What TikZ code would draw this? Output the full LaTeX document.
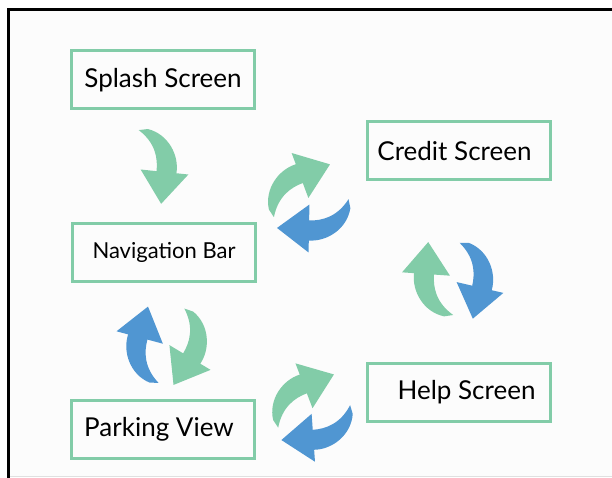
\documentclass[tikz,border=0pt]{standalone}
\usepackage{fontspec}
\setmainfont{Lato}
\definecolor{appgreen}{RGB}{130,204,168}
\definecolor{appblue}{RGB}{80,150,210}
\begin{document}
\begin{tikzpicture}[x=1pt,y=-1pt,
    screen/.style={draw=appgreen,line width=3pt,minimum width=183pt,minimum height=58pt,
        inner sep=0pt,font=\fontsize{26}{30}\selectfont},
    bendarrow/.pic={\fill[#1] (-39,30) -- (-41,21) .. controls (-38,0) and (-18,-13) .. (0,-12)
        -- (0,-24) -- (32,0) -- (0,24) -- (0,8) .. controls (-13,8) and (-28,12) .. (-39,30) -- cycle;}]
\useasboundingbox (0,0) rectangle (612,478);
\fill[gray!2] (8.5,9.5) rectangle (612,476.5);
\draw[black!12,line width=1pt] (8.5,476.5) -- (612,476.5);
\draw[line width=3.5pt] (612,9.5) -- (8.5,9.5) -- (8.5,478);
% screens
\node[screen] (splash) at (163,80) {Splash Screen};
\node[screen] (credit) at (458.5,151) {Credit Screen\hspace*{8pt}};
\node[screen,font=\fontsize{22}{26}\selectfont] (nav) at (164,252.5) {Navigation Bar};
\node[screen] (parking) at (163,429) {Parking View\hspace*{8pt}};
\node[screen] (help) at (458.5,392.5) {\hspace*{16pt}Help Screen};
% arrows
\pic[rotate=-96] at (164.5,172) {bendarrow=appgreen};
\pic[rotate=20.4] at (300,175.5) {bendarrow=appgreen};
\pic[rotate=-181] at (309,228.5) {bendarrow=appblue};
\pic[rotate=86] at (426,274) {bendarrow=appgreen};
\pic[rotate=-103] at (480,287.5) {bendarrow=appblue};
\pic[rotate=75] at (139.7,337.5) {bendarrow=appblue};
\pic[rotate=-121] at (190,357.5) {bendarrow=appgreen};
\pic[rotate=20.8] at (304,385.8) {bendarrow=appgreen};
\pic[rotate=-176] at (313.3,437.8) {bendarrow=appblue};
\end{tikzpicture}
\end{document}
